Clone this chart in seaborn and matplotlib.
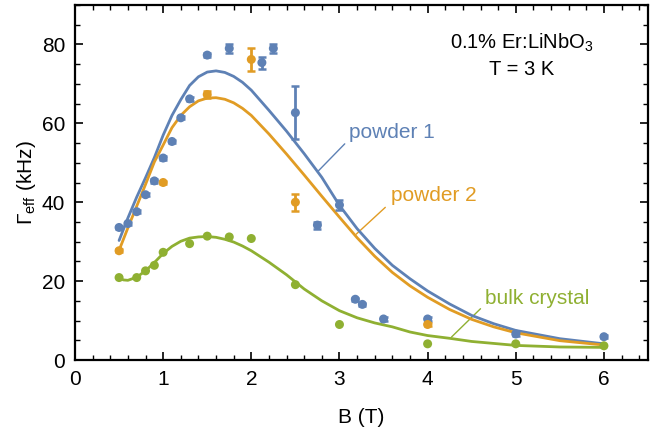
import numpy as np
import pandas as pd
import matplotlib
matplotlib.use("Agg")
import matplotlib.pyplot as plt
import seaborn as sns
from matplotlib.ticker import MultipleLocator

# ---------------- data ----------------
p1_B = [0.5, 0.6, 0.7, 0.8, 0.9, 1.0, 1.1, 1.2, 1.3, 1.5, 1.75, 2.12, 2.25, 2.5, 2.75, 3.0, 3.18, 3.26, 3.5, 4.0, 5.0, 6.0]
p1_G = [33.6, 34.6, 37.6, 41.9, 45.4, 51.2, 55.4, 61.4, 66.2, 77.3, 79.0, 75.4, 79.0, 62.7, 34.2, 39.3, 15.4, 14.1, 10.4, 10.4, 6.6, 5.9]
p1_err = [0.4, 0.4, 0.4, 0.4, 0.4, 0.4, 0.4, 0.4, 0.5, 0.6, 1.1, 1.5, 1.2, 6.7, 0.9, 1.2, 0.4, 0.4, 0.4, 0.4, 0.4, 0.4]

p2_B = [0.5, 1.0, 1.5, 2.0, 2.5, 4.0]
p2_G = [27.7, 45.0, 67.3, 76.2, 40.0, 9.0]
p2_err = [0.4, 0.4, 0.9, 3.0, 2.1, 0.4]

bulk_B = [0.5, 0.7, 0.8, 0.9, 1.0, 1.3, 1.5, 1.75, 2.0, 2.5, 3.0, 4.0, 5.0, 6.0]
bulk_G = [20.9, 20.9, 22.6, 24.0, 27.3, 29.5, 31.4, 31.2, 30.8, 19.1, 9.0, 4.1, 4.1, 3.6]

fit_B = [0.5, 0.6, 0.7, 0.8, 0.9, 1.0, 1.1, 1.2, 1.3, 1.4, 1.5, 1.6, 1.7, 1.8, 1.9, 2.0,
         2.2, 2.4, 2.6, 2.8, 3.0, 3.2, 3.4, 3.6, 3.8, 4.0, 4.25, 4.5, 4.75, 5.0, 5.5, 6.0]
fit_p1 = [30.3, 36.0, 41.3, 46.2, 51.3, 57.0, 62.0, 66.0, 69.6, 71.8, 73.0, 73.3, 72.9, 71.9, 70.4, 68.4,
          63.3, 58.0, 52.3, 46.3, 39.2, 33.3, 28.3, 24.0, 20.6, 17.5, 14.2, 11.3, 9.2, 7.5, 5.4, 4.1]
fit_p2 = [27.8, 33.5, 39.0, 44.5, 50.2, 54.5, 58.9, 62.0, 64.2, 65.7, 66.4, 66.5, 66.1, 65.2, 63.8, 62.0,
          57.3, 52.2, 46.9, 41.5, 36.2, 31.0, 26.3, 22.2, 18.8, 15.9, 12.8, 10.3, 8.4, 6.9, 4.9, 3.8]
fit_bulk_B = [0.5, 0.55, 0.6, 0.7, 0.8, 0.9, 1.0, 1.1, 1.2, 1.3, 1.4, 1.5, 1.6, 1.7, 1.8, 1.9, 2.0,
              2.2, 2.4, 2.6, 2.8, 3.0, 3.2, 3.4, 3.6, 3.8, 4.0, 4.25, 4.5, 5.0, 5.5, 6.0]
fit_bulk = [20.8, 20.3, 20.2, 21.0, 22.6, 24.7, 27.0, 28.8, 30.1, 30.9, 31.2, 31.3, 31.1, 30.6, 29.9, 28.9, 27.7,
            24.8, 21.6, 18.0, 15.0, 12.5, 10.7, 9.4, 8.4, 7.1, 6.2, 5.5, 4.7, 3.7, 3.3, 3.2]

labels = ["powder 1", "powder 2", "bulk crystal"]
colors = ["#5E81B5", "#E19C24", "#8FB032"]

# ---------------- style ----------------
sns.set_theme(style="ticks")
plt.rcParams["font.family"] = ["Liberation Sans", "DejaVu Sans"]
plt.rcParams["mathtext.fontset"] = "custom"
plt.rcParams["mathtext.rm"] = "Liberation Sans"
plt.rcParams["mathtext.it"] = "Liberation Sans:italic"
plt.rcParams["mathtext.default"] = "regular"

fig = plt.figure(figsize=(6.65, 4.37), dpi=100)
ax = fig.add_axes([75 / 665, 77 / 437, 573 / 665, 355 / 437])

# fits
sns.lineplot(x=fit_B, y=fit_p1, ax=ax, color=colors[0], lw=2.0, zorder=2)
sns.lineplot(x=fit_B, y=fit_p2, ax=ax, color=colors[1], lw=2.0, zorder=2)
sns.lineplot(x=fit_bulk_B, y=fit_bulk, ax=ax, color=colors[2], lw=2.0, zorder=2)

# data points
ax.errorbar(p1_B, p1_G, yerr=p1_err, fmt="none", ecolor=colors[0], elinewidth=2.0, capsize=3, capthick=1.8, zorder=3)
ax.errorbar(p2_B, p2_G, yerr=p2_err, fmt="none", ecolor=colors[1], elinewidth=2.0, capsize=3, capthick=1.8, zorder=3)
sns.scatterplot(x=p1_B, y=p1_G, ax=ax, color=colors[0], s=42, edgecolor="none", zorder=4)
sns.scatterplot(x=p2_B, y=p2_G, ax=ax, color=colors[1], s=42, edgecolor="none", zorder=4)
sns.scatterplot(x=bulk_B, y=bulk_G, ax=ax, color=colors[2], s=42, edgecolor="none", zorder=4)

# labels with leader lines
ax.plot([2.75, 3.06], [47.7, 54.8], color=colors[0], lw=1.0, zorder=1)
ax.text(3.11, 57.7, labels[0], color=colors[0], fontsize=15, ha="left", va="center")
ax.plot([3.19, 3.52], [31.9, 38.7], color=colors[1], lw=1.0, zorder=1)
ax.text(3.58, 41.7, labels[1], color=colors[1], fontsize=15, ha="left", va="center")
ax.plot([4.27, 4.60], [5.8, 13.0], color=colors[2], lw=1.0, zorder=1)
ax.text(4.65, 15.5, labels[2], color=colors[2], fontsize=15, ha="left", va="center")

ax.text(5.07, 80.4, "0.1% Er:LiNbO$_3$", color="black", fontsize=14.5, ha="center", va="center")
ax.text(5.07, 73.6, "T = 3 K", color="black", fontsize=14.5, ha="center", va="center")

# axes
ax.set_xlim(0, 6.5)
ax.set_ylim(0, 90)
ax.xaxis.set_major_locator(MultipleLocator(1))
ax.xaxis.set_minor_locator(MultipleLocator(0.2))
ax.yaxis.set_major_locator(MultipleLocator(20))
ax.yaxis.set_minor_locator(MultipleLocator(5))
ax.tick_params(which="both", direction="in", top=True, right=True, color="black",
               labelsize=15, labelcolor="black")
ax.tick_params(which="major", length=6, width=1.2, pad=7)
ax.tick_params(which="minor", length=3.5, width=1.0)
for s in ax.spines.values():
    s.set_color("black")
    s.set_linewidth(1.6)
ax.set_xlabel("B (T)", fontsize=15, color="black", labelpad=14)
ax.set_ylabel(r"$\Gamma_{eff}$ (kHz)", fontsize=15, color="black", labelpad=3)

fig.savefig("out.png", dpi=100)
